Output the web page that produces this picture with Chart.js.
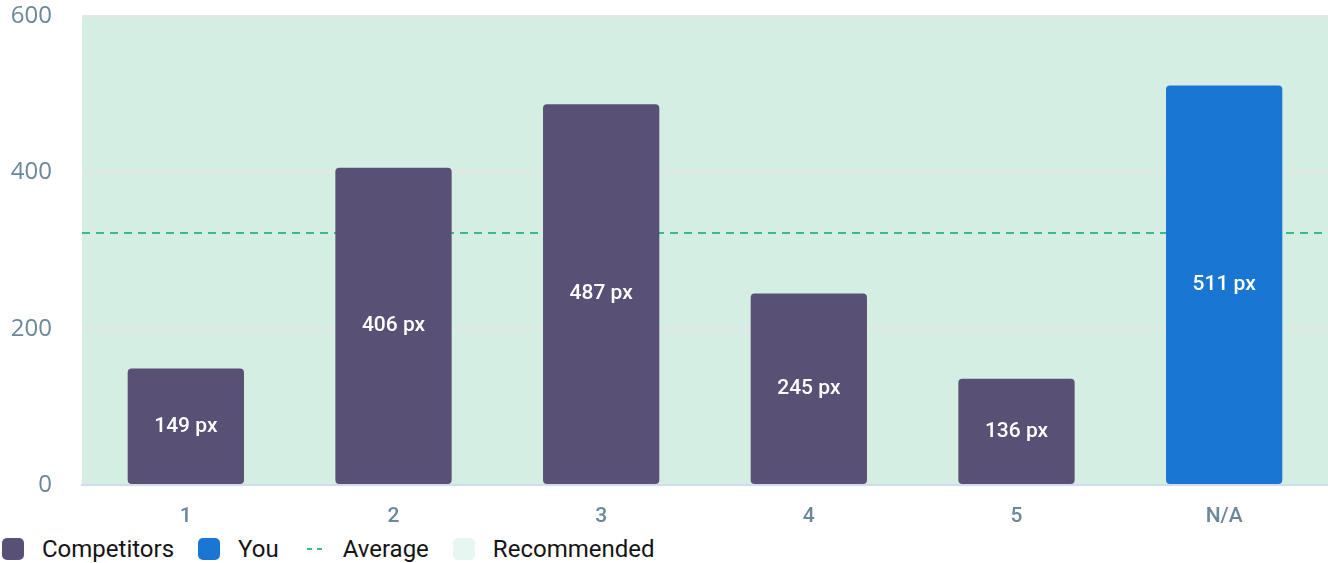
<!DOCTYPE html>
<html>
<head>
<meta charset="utf-8">
<script src="https://cdn.jsdelivr.net/npm/chart.js@4/dist/chart.umd.min.js"></script>
<style>
  html, body { margin: 0; padding: 0; background: #fff; }
  #wrap { width: 1328px; height: 530px; position: relative; }
  #legend { display: flex; align-items: center; height: 38px; padding-left: 2px;
    font-family: Roboto, sans-serif; font-size: 24px; color: #141414; }
  #legend .item { display: flex; align-items: center; margin-right: 24px; }
  #legend .box { width: 22px; height: 22px; border-radius: 5px; margin-right: 18px; }
</style>
</head>
<body>
<div id="wrap"><canvas id="myChart" width="1328" height="530"></canvas></div>
<div id="legend"></div>
<script>
const categories = ['1', '2', '3', '4', '5', 'N/A'];
const competitors = [149, 406, 487, 245, 136, null];
const you = [null, null, null, null, null, 511];
const recommended = [0, 600];
const yTicks = [0, 200, 400, 600];
const unit = 'px';

const colors = {
  competitors: '#585175',
  you: '#1976d2',
  average: '#3dba84',
  band: '#d5eee3',
  bandLegend: '#e8f6f1',
  tick: '#6b8898'
};

// average over every bar, competitors and you together
const allValues = competitors.concat(you).filter(v => v !== null);
const average = allValues.reduce((a, b) => a + b, 0) / allValues.length;

const bandPlugin = {
  id: 'band',
  beforeDraw(chart) {
    const { ctx, chartArea, scales } = chart;
    const top = scales.y.getPixelForValue(recommended[1]);
    const bottom = scales.y.getPixelForValue(recommended[0]);
    ctx.save();
    ctx.fillStyle = colors.band;
    ctx.fillRect(chartArea.left, top, chartArea.right - chartArea.left, bottom - top);
    ctx.restore();
  },
  beforeDatasetsDraw(chart) {
    const { ctx, chartArea, scales } = chart;
    const y = scales.y.getPixelForValue(average);
    ctx.save();
    ctx.strokeStyle = colors.average;
    ctx.lineWidth = 2;
    ctx.setLineDash([8, 6]);
    ctx.beginPath();
    ctx.moveTo(chartArea.left, y);
    ctx.lineTo(chartArea.right, y);
    ctx.stroke();
    ctx.restore();
  }
};

const valueLabels = {
  id: 'valueLabels',
  afterDatasetsDraw(chart) {
    const ctx = chart.ctx;
    ctx.save();
    ctx.fillStyle = '#fff';
    ctx.font = '500 21px Roboto';
    ctx.textAlign = 'center';
    ctx.textBaseline = 'middle';
    chart.data.datasets.forEach((ds, i) => {
      chart.getDatasetMeta(i).data.forEach((bar, j) => {
        const v = ds.data[j];
        if (v === null) return;
        ctx.fillText(v + ' ' + unit, bar.x, (bar.y + bar.base) / 2);
      });
    });
    ctx.restore();
  }
};

const ctx = document.getElementById('myChart').getContext('2d');
// eslint-disable-next-line no-undef
const chart = new Chart(ctx, {
  type: 'bar',
  data: {
    labels: categories,
    datasets: [{
      label: 'Competitors',
      data: competitors,
      backgroundColor: colors.competitors,
      borderRadius: 4,
      borderSkipped: false,
      categoryPercentage: 0.8,
      barPercentage: 0.7
    },
    {
      label: 'You',
      data: you,
      backgroundColor: colors.you,
      borderRadius: 4,
      borderSkipped: false,
      categoryPercentage: 0.8,
      barPercentage: 0.7
    }]
  },
  options: {
    responsive: false,
    animation: false,
    layout: { padding: 0 },
    plugins: {
      legend: { display: false },
      tooltip: { enabled: false }
    },
    scales: {
      x: {
        stacked: true,
        afterFit(scale) { scale.height = 45; },
        grid: { display: false, drawTicks: false },
        border: { display: true, color: '#d3dbef', width: 2 },
        ticks: {
          padding: 19,
          color: colors.tick,
          font: { family: 'Roboto', size: 21, weight: '500' }
        }
      },
      y: {
        min: 0,
        max: 600,
        afterFit(scale) {
          scale.width = 82;
          scale.paddingTop = 16;
        },
        afterBuildTicks(scale) { scale.ticks = yTicks.map(v => ({ value: v })); },
        grid: { color: '#e6e6e6', lineWidth: 2, drawTicks: false },
        border: { display: false },
        ticks: {
          padding: 30,
          color: colors.tick,
          font: { family: 'Open Sans', size: 24 }
        }
      }
    }
  },
  plugins: [bandPlugin, valueLabels]
});

// legend drawn as html under the canvas
const legendItems = [
  { text: 'Competitors', color: colors.competitors },
  { text: 'You', color: colors.you },
  { text: 'Average', dashed: colors.average },
  { text: 'Recommended', color: colors.bandLegend }
];
const legend = document.getElementById('legend');
legendItems.forEach(it => {
  const item = document.createElement('div');
  item.className = 'item';
  let mark;
  if (it.dashed) {
    mark = '<svg class="box" width="22" height="22"><line x1="4" y1="11" x2="20" y2="11" stroke="' +
      it.dashed + '" stroke-width="2" stroke-dasharray="5 5"/></svg>';
  } else {
    mark = '<span class="box" style="background:' + it.color + '"></span>';
  }
  item.innerHTML = mark + '<span>' + it.text + '</span>';
  legend.appendChild(item);
});
</script>
</body>
</html>
